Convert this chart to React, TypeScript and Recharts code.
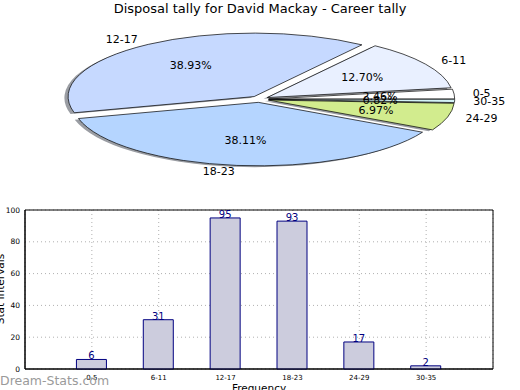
import { PieChart, Pie, BarChart, Bar, XAxis, YAxis, CartesianGrid, LabelList, ReferenceArea } from 'recharts'

const categories = ['0-5', '6-11', '12-17', '18-23', '24-29', '30-35']
const tallies = [6, 31, 95, 93, 17, 2]
const yTicks = [0, 20, 40, 60, 80, 100]
const sliceColors = ['#ffffff', '#e9f0ff', '#c6d9ff', '#b5d5ff', '#d2ec8e', '#d4f3f7']

const total = tallies.reduce((a, b) => a + b, 0)
const pieData = categories.map((name, i) => ({ name, value: tallies[i], fill: sliceColors[i] }))
const barData = categories.map((name, i) => ({ x: i, name, value: tallies[i] }))

const FONT = '"DejaVu Sans", sans-serif'
const RX = 186
const RY = 63.5
const EXPLODE = 0.05
const RAD = Math.PI / 180

// elliptical wedge (pie squashed like the original)
const wedgePath = (cx: number, cy: number, start: number, end: number, mid: number) => {
  const ox = cx + EXPLODE * RX * Math.cos(mid * RAD)
  const oy = cy - EXPLODE * RY * Math.sin(mid * RAD)
  const sx = ox + RX * Math.cos(start * RAD)
  const sy = oy - RY * Math.sin(start * RAD)
  const ex = ox + RX * Math.cos(end * RAD)
  const ey = oy - RY * Math.sin(end * RAD)
  const large = end - start > 180 ? 1 : 0
  return `M${ox},${oy} L${sx},${sy} A${RX},${RY} 0 ${large} 0 ${ex},${ey} Z`
}

const renderSlice = (props: any) => {
  const { cx, cy, startAngle, endAngle, midAngle, fill } = props
  return <path d={wedgePath(cx, cy, startAngle, endAngle, midAngle)} fill={fill} stroke='#000' strokeWidth={0.7} />
}

const renderShadow = (props: any) => {
  const { cx, cy, startAngle, endAngle, midAngle } = props
  return <path d={wedgePath(cx - 3.7, cy + 1.3, startAngle, endAngle, midAngle)} fill='#9a9da3' stroke='none' />
}

const renderLabel = (props: any) => {
  const { cx, cy, midAngle, index } = props
  const c = Math.cos(midAngle * RAD)
  const s = Math.sin(midAngle * RAD)
  const pct = ((tallies[index] / total) * 100).toFixed(2) + '%'
  return (
    <g>
      <text x={cx + (EXPLODE + 1.1) * RX * c} y={cy - (EXPLODE + 1.1) * RY * s} textAnchor={c > 0 ? 'start' : 'end'}
        dominantBaseline='central' fontSize={11} fontFamily={FONT} fill='#000'>{categories[index]}</text>
      <text x={cx + (EXPLODE + 0.6) * RX * c} y={cy - (EXPLODE + 0.6) * RY * s} textAnchor='middle'
        dominantBaseline='central' fontSize={11} fontFamily={FONT} fill='#000'>{pct}</text>
    </g>
  )
}

export default function App () {
  return (
    <div style={{ position: 'absolute', left: 0, top: 0, width: 520, height: 390, background: '#fff', overflow: 'hidden', fontFamily: FONT }}>
      <div style={{ position: 'absolute', left: 0, top: 1, width: 520, textAlign: 'center', fontSize: 13 }}>
        Disposal tally for David Mackay - Career tally
      </div>
      <div style={{ position: 'absolute', left: 0, top: 0 }}>
        <PieChart width={520} height={200} margin={{ top: 0, right: 0, bottom: 0, left: 0 }}>
          <Pie data={pieData} dataKey='value' cx={259.4} cy={99.2} outerRadius={RX} startAngle={0} endAngle={360}
            shape={renderShadow} isAnimationActive={false} />
          <Pie data={pieData} dataKey='value' cx={259.4} cy={99.2} outerRadius={RX} startAngle={0} endAngle={360}
            shape={renderSlice} label={renderLabel} labelLine={false} isAnimationActive={false} />
        </PieChart>
      </div>
      <div style={{ position: 'absolute', left: 0, top: 200 }}>
        <BarChart width={520} height={190} data={barData} margin={{ top: 10, right: 27, bottom: 0, left: 0 }}>
          <CartesianGrid stroke='#b0b0b0' strokeDasharray='1 3' />
          <XAxis type='number' dataKey='x' domain={[-1, 6]} ticks={[0, 1, 2, 3, 4, 5]} tickFormatter={(v: number) => categories[v]}
            height={21} tickLine={false} tickSize={4} axisLine={{ stroke: '#000' }} tick={{ fontSize: 7, fill: '#000', fontFamily: FONT }} />
          <YAxis domain={[0, 100]} ticks={yTicks} width={25} tickLine={false} tickSize={3} axisLine={{ stroke: '#000' }}
            tick={{ fontSize: 7.5, fill: '#000', fontFamily: FONT }} />
          <ReferenceArea x1={-1} x2={6} y1={0} y2={100} fill='none' fillOpacity={0} stroke='#000' strokeWidth={1} />
          <Bar dataKey='value' fill='#ccccdd' stroke='#000080' strokeWidth={1} barSize={30} isAnimationActive={false}>
            <LabelList dataKey='value' position='top' offset={0} fill='#000080' fontSize={10} fontFamily={FONT} />
          </Bar>
        </BarChart>
      </div>
      <div style={{ position: 'absolute', left: -40, top: 283, width: 80, textAlign: 'center', fontSize: 10.5, transform: 'rotate(-90deg)', whiteSpace: 'nowrap' }}>
        Stat Intervals
      </div>
      <div style={{ position: 'absolute', left: 209, top: 382, width: 100, textAlign: 'center', fontSize: 10.5 }}>
        Frequency
      </div>
      <div style={{ position: 'absolute', left: 0, top: 373, fontSize: 12.5, color: '#9a9a9a' }}>
        Dream-Stats.com
      </div>
    </div>
  )
}
